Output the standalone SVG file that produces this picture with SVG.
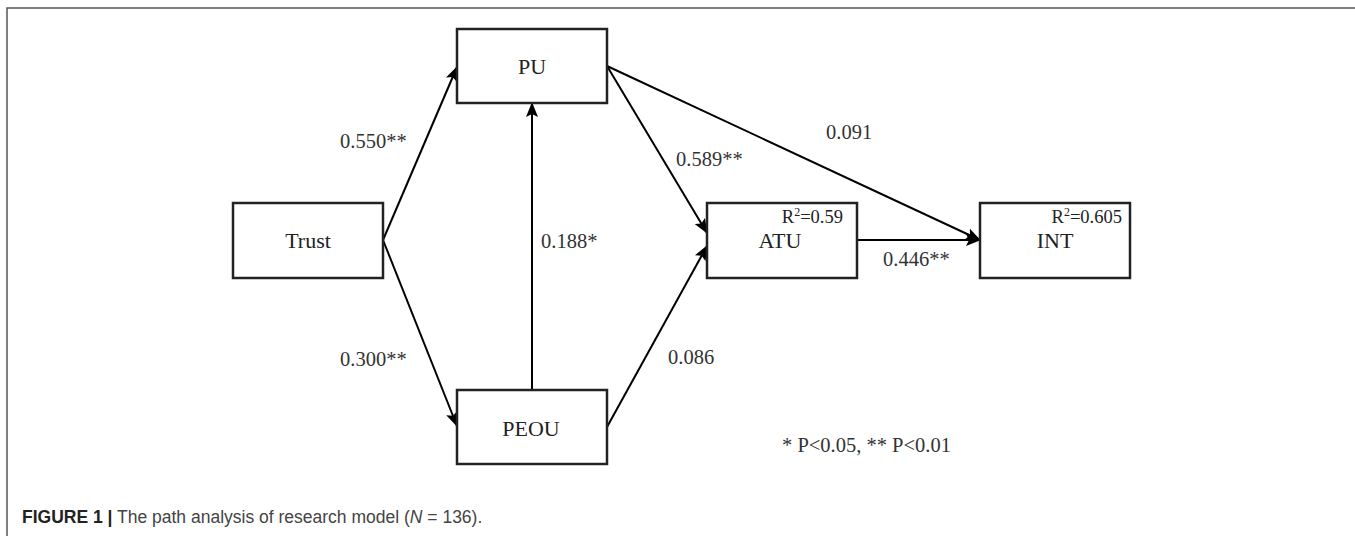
<svg xmlns="http://www.w3.org/2000/svg" width="1355" height="536" viewBox="0 0 1355 536">
<style>
.box{fill:#fff;stroke:#222;stroke-width:2.5}
.nl{font-family:"Liberation Serif","Times New Roman",serif;font-size:22px;fill:#222;text-anchor:middle}
.el{font-family:"Liberation Serif","Times New Roman",serif;font-size:20.5px;fill:#333}
.r2{font-family:"Liberation Serif","Times New Roman",serif;font-size:18.5px;fill:#222;text-anchor:end}
.edge{fill:none;stroke:#000;stroke-width:2}
.cap{font-family:"Liberation Sans",Arial,sans-serif;font-size:17.5px;fill:#444}
</style>
<defs>
<marker id="ah" markerUnits="userSpaceOnUse" markerWidth="15" markerHeight="12" refX="14" refY="6" orient="auto">
<path d="M0,0 L15,6 L0,12 L3,6 Z" fill="#000"/>
</marker>
</defs>
<rect x="7" y="8" width="1360" height="540" fill="#fff" stroke="#555" stroke-width="1.5"/>
<g id="connectors">
<line class="edge" x1="383" y1="240" x2="457" y2="67" marker-end="url(#ah)"/>
<line class="edge" x1="383" y1="240" x2="457" y2="426" marker-end="url(#ah)"/>
<line class="edge" x1="532" y1="390" x2="532" y2="103" marker-end="url(#ah)"/>
<line class="edge" x1="607" y1="66" x2="707" y2="233" marker-end="url(#ah)"/>
<line class="edge" x1="607" y1="427" x2="707" y2="246" marker-end="url(#ah)"/>
<line class="edge" x1="607" y1="66" x2="980" y2="240" marker-end="url(#ah)"/>
<line class="edge" x1="857" y1="240" x2="980" y2="240" marker-end="url(#ah)"/>
<text class="el" x="340" y="148">0.550**</text>
<text class="el" x="340" y="366">0.300**</text>
<text class="el" x="541" y="248">0.188*</text>
<text class="el" x="676" y="166">0.589**</text>
<text class="el" x="826" y="139">0.091</text>
<text class="el" x="883" y="266">0.446**</text>
<text class="el" x="668" y="364">0.086</text>
</g>
<g id="Trust"><rect class="box" x="233" y="203" width="150" height="75"/><text class="nl" x="308" y="248">Trust</text></g>
<g id="PU"><rect class="box" x="457" y="29" width="150" height="74"/><text class="nl" x="532" y="74">PU</text></g>
<g id="PEOU"><rect class="box" x="457" y="390" width="150" height="74"/><text class="nl" x="531" y="436">PEOU</text></g>
<g id="ATU"><rect class="box" x="707" y="203" width="150" height="75"/><text class="nl" x="780" y="248">ATU</text><text class="r2" x="843" y="223">R<tspan font-size="12" dy="-7">2</tspan><tspan dy="7">=0.59</tspan></text></g>
<g id="INT"><rect class="box" x="980" y="203" width="150" height="75"/><text class="nl" x="1055" y="248">INT</text><text class="r2" x="1122" y="223">R<tspan font-size="12" dy="-7">2</tspan><tspan dy="7">=0.605</tspan></text></g>
<text class="el" x="782" y="452">* P&lt;0.05, ** P&lt;0.01</text>
<text class="cap" x="22" y="523"><tspan font-weight="bold" fill="#222">FIGURE 1 |</tspan> The path analysis of research model (<tspan font-style="italic">N</tspan> = 136).</text>
</svg>
